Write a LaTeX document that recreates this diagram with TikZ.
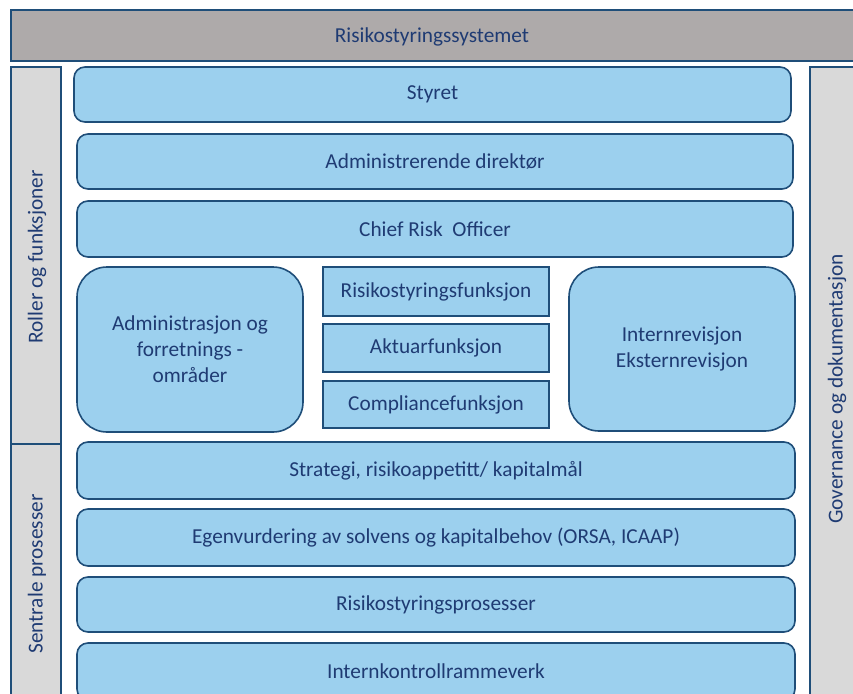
\documentclass[tikz,border=0pt]{standalone}
\usepackage{fontspec}
\setmainfont{Carlito}
\begin{document}
\begin{tikzpicture}[x=1pt,y=-1pt,
  txt/.style={text=labelblue, font=\fontsize{21.3}{26}\selectfont, align=center},
  frame/.style={draw=edgeblue, line width=1.6pt},
  bar/.style={frame, fill=barblue, rounded corners=11pt, inner sep=0pt, txt},
  bigbox/.style={frame, fill=barblue, rounded corners=30pt, inner sep=0pt, txt},
  fnbox/.style={frame, fill=barblue, inner sep=0pt, txt},
  side/.style={frame, fill=sidegray},
  sidelabel/.style={txt, rotate=90}]
\definecolor{barblue}{HTML}{9CD0EE}
\definecolor{edgeblue}{HTML}{1F4E79}
\definecolor{labelblue}{HTML}{1F3B73}
\definecolor{sidegray}{HTML}{D9D9D9}
\definecolor{topgray}{HTML}{AEAAAA}
\useasboundingbox (0,0) rectangle (853,693);
\clip (0,0) rectangle (853,693);

% header strip
\draw[frame, fill=topgray] (11,10) rectangle (870,61);
\node[txt] (top) at (432,37) {Risikostyringssystemet};

% side columns
\draw[side] (11,67) rectangle (61,720);
\draw[frame] (11,444) -- (61,444);
\draw[side] (810,67) rectangle (870,720);
\node[sidelabel] (roles) at (37,257) {Roller og funksjoner};
\node[sidelabel] (procs) at (37,574) {Sentrale prosesser};
\node[sidelabel] (gov) at (837,389) {Governance og dokumentasjon};

% roles
\node[bar, minimum width=717pt, minimum height=55pt] (styret) at (432.5,94.5) {Styret};
\node[bar, minimum width=716pt, minimum height=55pt] (adm) at (435,161.5) {Administrerende direktør};
\node[bar, minimum width=716pt, minimum height=56pt] (cro) at (435,229) {Chief Risk~ Officer};
\node[bigbox, minimum width=226pt, minimum height=165pt] (omr) at (190,349.5) {Administrasjon og\\forretnings -\\områder};
\node[fnbox, minimum width=226pt, minimum height=49pt] (rsf) at (436,291.5) {Risikostyringsfunksjon};
\node[fnbox, minimum width=226pt, minimum height=48pt] (akt) at (436,348) {Aktuarfunksjon};
\node[fnbox, minimum width=226pt, minimum height=47pt] (cmp) at (436,404.5) {Compliancefunksjon};
\node[bigbox, minimum width=226pt, minimum height=164pt] (rev) at (682,349) {Internrevisjon\\Eksternrevisjon};

% processes
\node[bar, minimum width=718pt, minimum height=57pt] (strat) at (436,470.5) {Strategi, risikoappetitt/ kapitalmål};
\node[bar, minimum width=718pt, minimum height=57pt] (orsa) at (436,537.5) {Egenvurdering av solvens og kapitalbehov (ORSA, ICAAP)};
\node[bar, minimum width=718pt, minimum height=55pt] (rsp) at (436,604.5) {Risikostyringsprosesser};
\node[bar, minimum width=718pt, minimum height=57pt] (ik) at (436,671.5) {Internkontrollrammeverk};
\end{tikzpicture}
\end{document}
